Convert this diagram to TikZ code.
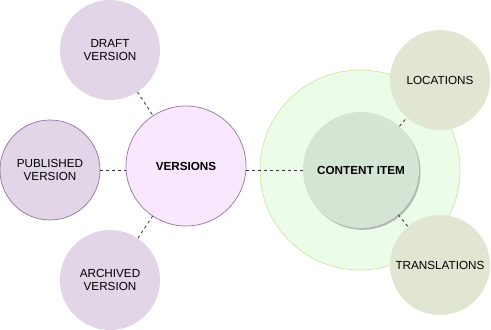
\documentclass[tikz,border=0pt]{standalone}
\usepackage{fontspec}
\setmainfont{Liberation Sans}
\usepackage{tikz}
\usetikzlibrary{shadows}
\usepackage{xcolor}
\definecolor{purplefill}{HTML}{E1D5E7}
\definecolor{purpleline}{HTML}{9673A6}
\definecolor{versionfill}{HTML}{F9E7FD}
\definecolor{outerfill}{HTML}{EBFCE9}
\definecolor{outerline}{HTML}{D6E3A0}
\definecolor{itemfill}{HTML}{D5E5D4}
\definecolor{sidefill}{HTML}{E0E6D1}

\begin{document}
\begin{tikzpicture}[x=1pt,y=-1pt,
  every node/.style={font=\fontsize{11.7}{13.5}\selectfont,align=center},
  bubble/.style={circle,inner sep=0pt,minimum size=100pt},
  link/.style={draw=black!80,line width=0.8pt,dash pattern=on 3pt off 3pt}]
\useasboundingbox (0,0) rectangle (491,330);
% versions side
\node[bubble,fill=purplefill] (draft) at (110,50) {DRAFT\\VERSION};
\node[bubble,fill=purplefill,draw=purpleline,line width=0.7pt] (published) at (50,170) {PUBLISHED\\VERSION};
\node[bubble,fill=purplefill] (archived) at (110,280) {ARCHIVED\\VERSION};
\node[bubble,minimum size=120pt,fill=versionfill,draw=purpleline,line width=0.7pt] (versions) at (186,166) {\textbf{VERSIONS}};
% content side
\node[bubble,minimum size=200pt,fill=outerfill,draw=outerline,line width=0.7pt] (outer) at (360,170) {};
\node[bubble,minimum size=116pt,fill=itemfill,
  drop shadow={shadow xshift=1.5pt,shadow yshift=-1.8pt,fill=black!45,opacity=0.6}] (item) at (361,170) {\textbf{CONTENT ITEM}};
\node[bubble,fill=sidefill] (locations) at (440,80) {LOCATIONS};
\node[bubble,fill=sidefill] (translations) at (440,265) {TRANSLATIONS};
% connectors
\draw[link] (draft) -- (versions);
\draw[link] (published) -- (published -| versions.west);
\draw[link] (archived) -- (versions);
\draw[link] (item.west) -- (item.west -| versions.east);
\draw[link] (item) -- (locations);
\draw[link] (item) -- (translations);
\end{tikzpicture}
\end{document}
